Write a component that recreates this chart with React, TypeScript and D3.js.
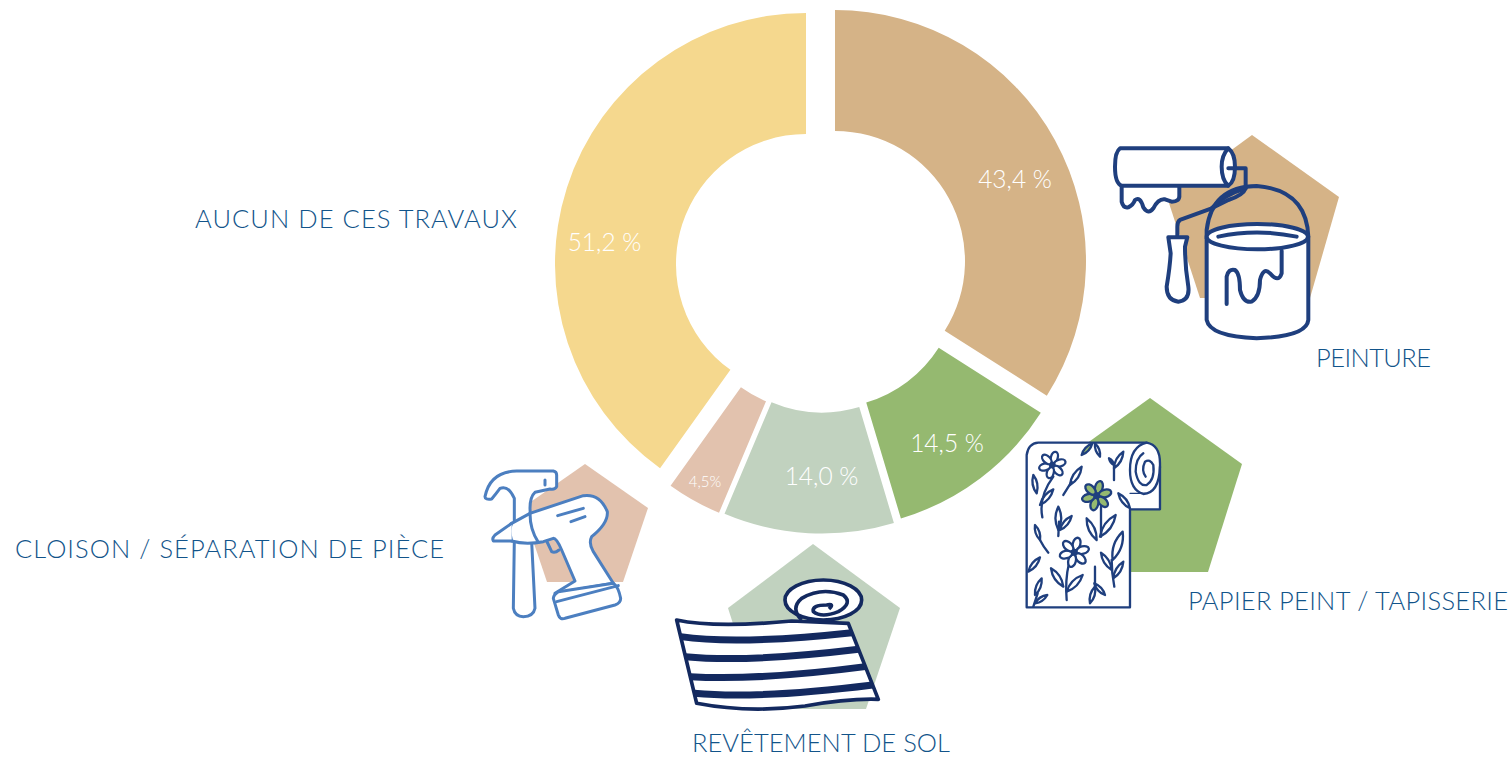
import React from "react";
import * as d3 from "d3";

// ---------- data ----------
const categories = ["PEINTURE", "PAPIER PEINT / TAPISSERIE", "REVÊTEMENT DE SOL", "CLOISON / SÉPARATION DE PIÈCE", "AUCUN DE CES TRAVAUX"];
const values = [43.4, 14.5, 14.0, 4.5, 51.2];
const valueLabels = ["43,4 %", "14,5 %", "14,0 %", "4,5%", "51,2 %"];
const colors = ["#D5B387", "#95B970", "#C1D2BF", "#E2C2AE", "#F5D88E"];

// ---------- layout ----------
const W = 1512, H = 757;
const sliceCx = [835, 829, 822, 816.5, 806];
const sliceCy = [261, 278, 282.5, 281.5, 264];
const innerR = 130, outerR = 251;
const valueX = [1015, 947, 821.5, 705, 604.5];
const valueY = [188, 452, 485, 487, 251];
const valueSize = [24.5, 24.5, 24.5, 15, 24.5];
const catStart = [1316, 1188, 692, 15, 195];
const catEnd = [1431, 1508, 950, 444, 517];
const catBase = [367, 610, 752, 558, 228];
const pentagons = [
  [[1252, 135], [1339, 197], [1310, 298], [1200, 298], [1167, 197]],
  [[1150, 398], [1242, 464], [1208, 572], [1092, 572], [1058, 464]],
  [[813, 544], [900, 608], [866, 709], [760, 709], [728, 608]],
  [[585, 464], [648, 508], [623, 582], [547, 582], [522, 508]],
];
const textColor = "#12548A";
const navy = "#1F3F7E";
const FONT = "Lato, 'Open Sans', sans-serif";

const Paint = () => (
  <g transform="translate(1100,120) scale(0.3333)" fill="none" stroke={navy} strokeWidth={12} strokeLinejoin="round" strokeLinecap="round">
    <path fill="#fff" d="M65 200 V245 Q70 265 85 262 Q100 255 105 240 Q120 228 130 262 Q145 285 160 265 Q175 235 195 238 L215 245 Q240 245 238 225 V200" />
    <path fill="#fff" d="M60 85 H385 Q405 100 405 140 Q405 185 385 197 H65 Q45 190 45 140 Q45 95 60 85 Z" />
    <path d="M385 85 Q365 105 365 140 Q365 180 385 197" />
    <path d="M385 145 H437 V205 Q430 225 385 240 L335 265 L240 300 Q232 305 232 320 V350" />
    <path d="M335 265 Q370 225 437 205" />
    <path fill="#fff" d="M205 352 H262 L255 380 Q255 440 265 500 Q270 540 235 545 Q200 540 200 500 Q210 440 212 400 Z" />
    <path d="M320 355 V330 Q335 200 470 198 Q620 210 625 350" />
    <path fill="#fff" d="M320 355 V600 Q330 650 470 655 Q620 650 625 600 V350 Z" />
    <ellipse cx={472} cy={350} rx={152} ry={38} fill="#fff" />
    <path d="M355 350 Q470 325 590 350" />
    <path d="M380 552 V470 Q385 445 405 450 Q420 460 420 510 Q430 550 455 545 Q480 530 480 480 Q490 440 510 460 Q535 490 545 460 V392" />
  </g>
);

const leafPath = (a: number[]) => {
  const [x1, y1, x2, y2] = a;
  const dx = x2 - x1, dy = y2 - y1;
  const nx = -dy * 0.25, ny = dx * 0.25;
  const mx = (x1 + x2) / 2, my = (y1 + y2) / 2;
  return `M${x1} ${y1} Q${mx + nx} ${my + ny} ${x2} ${y2} Q${mx - nx} ${my - ny} ${x1} ${y1} Z`;
};
const leaves = [
  [65, 310, 55, 255], [75, 345, 115, 298], [165, 285, 200, 230], [130, 420, 130, 350], [135, 420, 170, 378],
  [75, 450, 60, 405], [40, 545, 75, 502], [60, 615, 80, 565], [60, 640, 97, 615], [145, 590, 108, 535],
  [155, 605, 203, 555], [245, 450, 215, 385], [255, 440, 302, 375], [290, 540, 258, 488], [295, 565, 325, 515],
  [293, 510, 323, 425], [225, 640, 240, 590], [270, 615, 238, 580], [297, 225, 282, 205], [297, 235, 325, 185],
  [255, 200, 240, 160], [345, 355, 310, 310],
];
const stems = [
  "M115 260 Q70 320 82 382", "M145 315 L170 275", "M130 438 L132 395", "M75 450 Q85 470 100 488",
  "M155 630 Q150 570 162 520", "M258 350 V440", "M298 590 Q290 550 290 510", "M240 530 V590",
  "M297 270 V225", "M55 650 L68 610",
];
const Flower = ({ x, y, r, fill }: { x: number; y: number; r: number; fill: string }) => (
  <g transform={`translate(${x},${y})`}>
    {d3.range(6).map((i) => (
      <ellipse key={i} cx={0} cy={-r * 0.62} rx={r * 0.27} ry={r * 0.45} fill={fill} transform={`rotate(${i * 60 + 15})`} />
    ))}
    <circle r={r * 0.1} fill="#1F3F7E" />
  </g>
);
const Wallpaper = () => (
  <g transform="translate(1015,390) scale(0.3333)" fill="none" stroke={navy} strokeWidth={7} strokeLinejoin="round" strokeLinecap="round">
    <path fill="#fff" d="M35 652 V195 Q40 160 70 158 H395 Q435 165 435 220 V358 H345 V652 Z" />
    <path d="M395 158 Q345 170 345 240 Q345 300 385 312 Q432 310 435 230" />
    <path d="M345 310 H395" strokeWidth={4} />
    <path d="M385 190 Q362 205 362 245 Q370 290 395 285 Q420 270 415 225 Q405 205 390 215 Q378 240 392 260" />
    <path fill="#95B970" d={leafPath([200, 195, 232, 160])} />
    {leaves.map((l, i) => <path key={i} d={leafPath(l)} fill="#fff" />)}
    {stems.map((s, i) => <path key={i} d={s} />)}
    <Flower x={112} y={225} r={38} fill="#fff" />
    <Flower x={245} y={317} r={42} fill="#95B970" />
    <Flower x={178} y={487} r={42} fill="#fff" />
  </g>
);

const Carpet = () => (
  <g transform="translate(665,540) scale(0.3333)" fill="none" stroke="#13295F" strokeWidth={11} strokeLinejoin="round" strokeLinecap="butt">
    <path fill="#fff" d="M35 240 Q150 265 380 243 L550 250 L640 478 Q550 475 420 498 Q250 520 95 490 Z" />
    <path strokeWidth={21} d="M47 290 Q220 315 561 278" />
    <path strokeWidth={21} d="M61 350 Q250 368 581 328" />
    <path strokeWidth={21} d="M76 410 Q280 422 601 380" />
    <path strokeWidth={21} d="M88 460 Q280 478 623 435" />
    <ellipse cx={475} cy={180} rx={115} ry={60} fill="#fff" />
    <path d="M410 240 Q375 205 410 175 Q470 140 535 165 Q565 190 520 215 Q470 235 445 215 Q440 195 485 195 Q510 190 492 207" />
  </g>
);

const Tools = () => (
  <g transform="translate(475,455) scale(0.3333)" fill="#fff" stroke="#4C7FC0" strokeWidth={9} strokeLinejoin="round" strokeLinecap="round">
    <path d="M30 125 Q45 50 125 48 L235 48 Q245 50 245 60 V95 Q240 105 225 102 L180 112 Q165 125 165 160 L180 460 Q175 485 145 485 Q120 485 115 460 L118 255 V130 Q100 90 75 100 Q60 120 50 132 Q30 135 30 125 Z" />
    <path fill="none" d="M210 75 V90" />
    <path d="M240 415 L415 385 L355 290 Q340 265 350 245 Q400 205 397 170 Q375 115 325 122 L165 175 L110 205 Q100 225 110 258 Q150 270 205 260 L235 250 Q245 250 260 285 L300 378 Z" />
    <path d="M110 205 L60 240 Q50 250 55 258 L110 258" />
    <path fill="none" d="M165 175 Q165 225 190 262" />
    <path fill="none" d="M215 258 L230 290 Q240 295 252 285" />
    <path d="M250 410 L415 385 Q430 395 437 430 Q437 445 420 450 L270 490 Q255 495 250 480 L235 430 Q235 420 250 410 Z" />
    <path fill="none" d="M245 440 L430 392" />
    <path fill="none" d="M248 182 L325 160 M288 200 L330 185" />
  </g>
);

export default function App() {
  const slices = d3.pie<number>().sort(null)(values);
  const arc = d3.arc<d3.PieArcDatum<number>>().innerRadius(innerR).outerRadius(outerR);
  return (
    <svg width={W} height={H} viewBox={`0 0 ${W} ${H}`} style={{ position: "absolute", left: 0, top: 0, background: "#fff" }}>
      {slices.map((s, i) => (
        <path key={i} d={arc(s) as string} transform={`translate(${sliceCx[i]},${sliceCy[i]})`} fill={colors[i]} />
      ))}
      {pentagons.map((p, i) => (
        <polygon key={i} points={p.map((q) => q.join(",")).join(" ")} fill={colors[i]} />
      ))}
      <Paint />
      <Wallpaper />
      <Carpet />
      <Tools />
      {valueLabels.map((t, i) => (
        <text key={i} x={valueX[i]} y={valueY[i]} textAnchor="middle" fontFamily={FONT} fontWeight={300} fontSize={valueSize[i]} fill="#fff">{t}</text>
      ))}
      {categories.map((t, i) => (
        <text key={i} x={catStart[i]} y={catBase[i]} textLength={catEnd[i] - catStart[i]} lengthAdjust="spacing" fontFamily={FONT} fontWeight={300} fontSize={25.5} fill={textColor}>{t}</text>
      ))}
    </svg>
  );
}
